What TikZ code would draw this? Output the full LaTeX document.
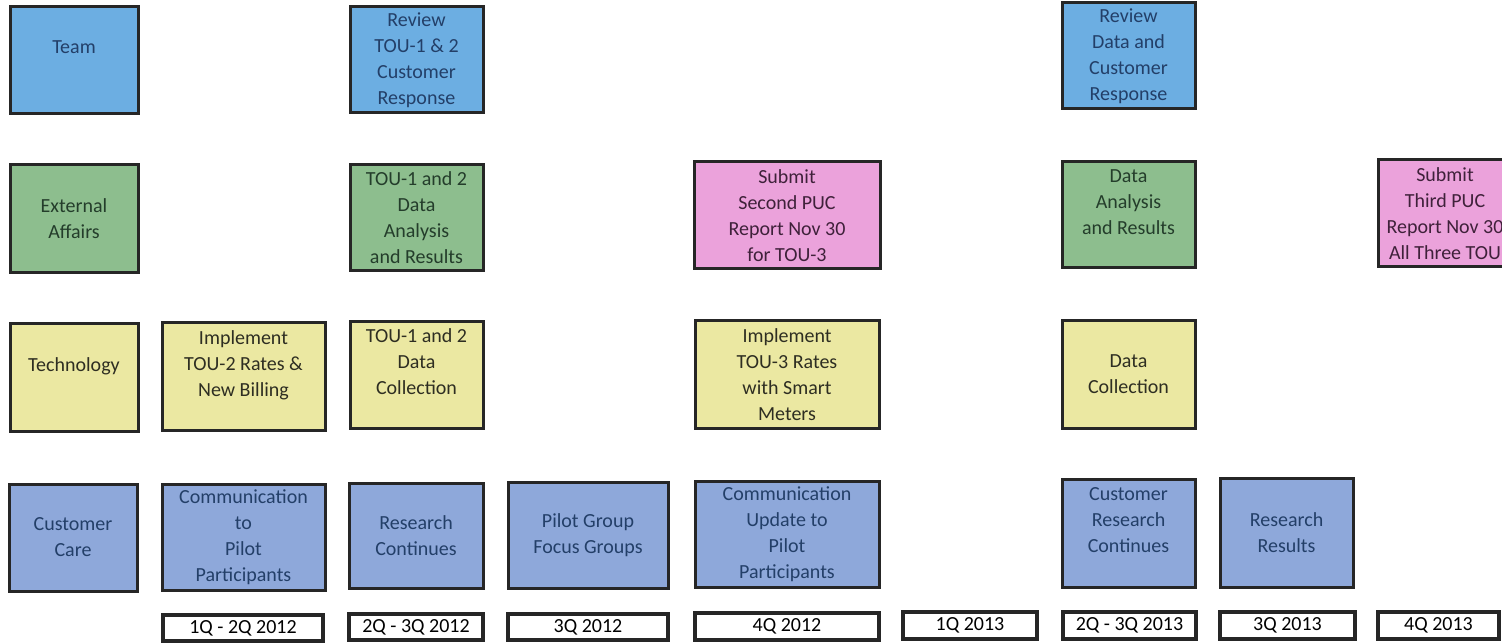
\documentclass[tikz,border=0pt]{standalone}
\usepackage{fontspec}
\setmainfont{Carlito}
\definecolor{skyfill}{HTML}{6CAEE2}
\definecolor{greenfill}{HTML}{8DBE8E}
\definecolor{yellowfill}{HTML}{EBE8A2}
\definecolor{pinkfill}{HTML}{EBA2DB}
\definecolor{perifill}{HTML}{8EA8DA}
\definecolor{bordercol}{HTML}{262626}
\definecolor{bluetext}{HTML}{233F68}
\definecolor{greentext}{HTML}{243D2B}
\definecolor{yellowtext}{HTML}{2E2E22}
\definecolor{pinktext}{HTML}{3F213A}
\newcommand\mkbox[7]{%
  \pgfmathsetmacro\bw{#5-#3}%
  \pgfmathsetmacro\bh{#6-#4}%
  \node[#1, minimum width=\bw pt, minimum height=\bh pt] (#2) at ({(#3+#5)/2},{(#4+#6)/2}) {#7};}
\begin{document}
\begin{tikzpicture}[x=1pt,y=-1pt,
  base/.style={draw=bordercol, line width=3pt, inner sep=0pt, outer sep=0pt,
    align=center, font=\fontsize{20}{26}\selectfont},
  teambox/.style={base, fill=skyfill, text=bluetext},
  extbox/.style={base, fill=greenfill, text=greentext},
  techbox/.style={base, fill=yellowfill, text=yellowtext},
  pucbox/.style={base, fill=pinkfill, text=pinktext},
  carebox/.style={base, fill=perifill, text=bluetext},
  datebox/.style={base, fill=white, text=black, line width=3.2pt}]
\useasboundingbox (0,0) rectangle (1502,644);
\clip (0,0) rectangle (1502,644);
\fill[white] (0,0) rectangle (1502,644);
% Row 1: Team
\mkbox{teambox}{team}{10}{7}{138}{114}{Team\\\mbox{}}
\mkbox{teambox}{review1}{350}{7}{483}{113}{Review\\TOU-1 \& 2\\Customer\\Response}
\mkbox{teambox}{review2}{1062}{3}{1195}{109}{Review\\Data and\\Customer\\Response}
% Row 2: External Affairs
\mkbox{extbox}{ext}{10}{165}{138}{273}{External\\Affairs}
\mkbox{extbox}{analysis1}{350}{165}{483}{271}{TOU-1 and 2\\Data\\Analysis\\and Results}
\mkbox{pucbox}{puc2}{694}{162}{880}{269}{Submit\\Second PUC\\Report Nov 30\\for TOU-3}
\mkbox{extbox}{analysis2}{1062}{162}{1195}{268}{Data\\Analysis\\and Results\\\mbox{}}
\mkbox{pucbox}{puc3}{1378}{160}{1512}{267}{Submit\\Third PUC\\Report Nov 30\\All Three TOU}
% Row 3: Technology
\mkbox{techbox}{tech}{10}{324}{138}{431}{Technology\\\mbox{}}
\mkbox{techbox}{impl2}{162}{323}{325}{430}{Implement\\TOU-2 Rates \&\\New Billing\\\mbox{}}
\mkbox{techbox}{collect1}{350}{322}{483}{428}{TOU-1 and 2\\Data\\Collection\\\mbox{}}
\mkbox{techbox}{impl3}{695}{321}{879}{428}{Implement\\TOU-3 Rates\\with Smart\\Meters}
\mkbox{techbox}{collect2}{1062}{321}{1195}{428}{Data\\Collection}
% Row 4: Customer Care
\mkbox{carebox}{care}{9}{484}{137}{591}{Customer\\Care}
\mkbox{carebox}{comm1}{162}{484}{325}{590}{Communication\\to\\Pilot\\Participants}
\mkbox{carebox}{research1}{349}{483}{483}{588}{Research\\Continues}
\mkbox{carebox}{focus}{508}{482}{668}{588}{Pilot Group\\Focus Groups}
\mkbox{carebox}{comm2}{695}{481}{879}{587}{Communication\\Update to\\Pilot\\Participants}
\mkbox{carebox}{research2}{1062}{479}{1195}{587}{Customer\\Research\\Continues\\\mbox{}}
\mkbox{carebox}{results}{1220}{478}{1353}{587}{Research\\Results}
% Timeline
\mkbox{datebox}{d1}{163}{615}{323}{641}{1Q - 2Q 2012}
\mkbox{datebox}{d2}{349}{614}{483}{640}{2Q - 3Q 2012}
\mkbox{datebox}{d3}{508}{614}{668}{640}{3Q 2012}
\mkbox{datebox}{d4}{695}{613}{879}{640}{4Q 2012}
\mkbox{datebox}{d5}{903}{612}{1037}{639}{1Q 2013}
\mkbox{datebox}{d6}{1063}{612}{1196}{639}{2Q - 3Q 2013}
\mkbox{datebox}{d7}{1220}{612}{1355}{639}{3Q 2013}
\mkbox{datebox}{d8}{1378}{612}{1499}{639}{4Q 2013}
\end{tikzpicture}
\end{document}
